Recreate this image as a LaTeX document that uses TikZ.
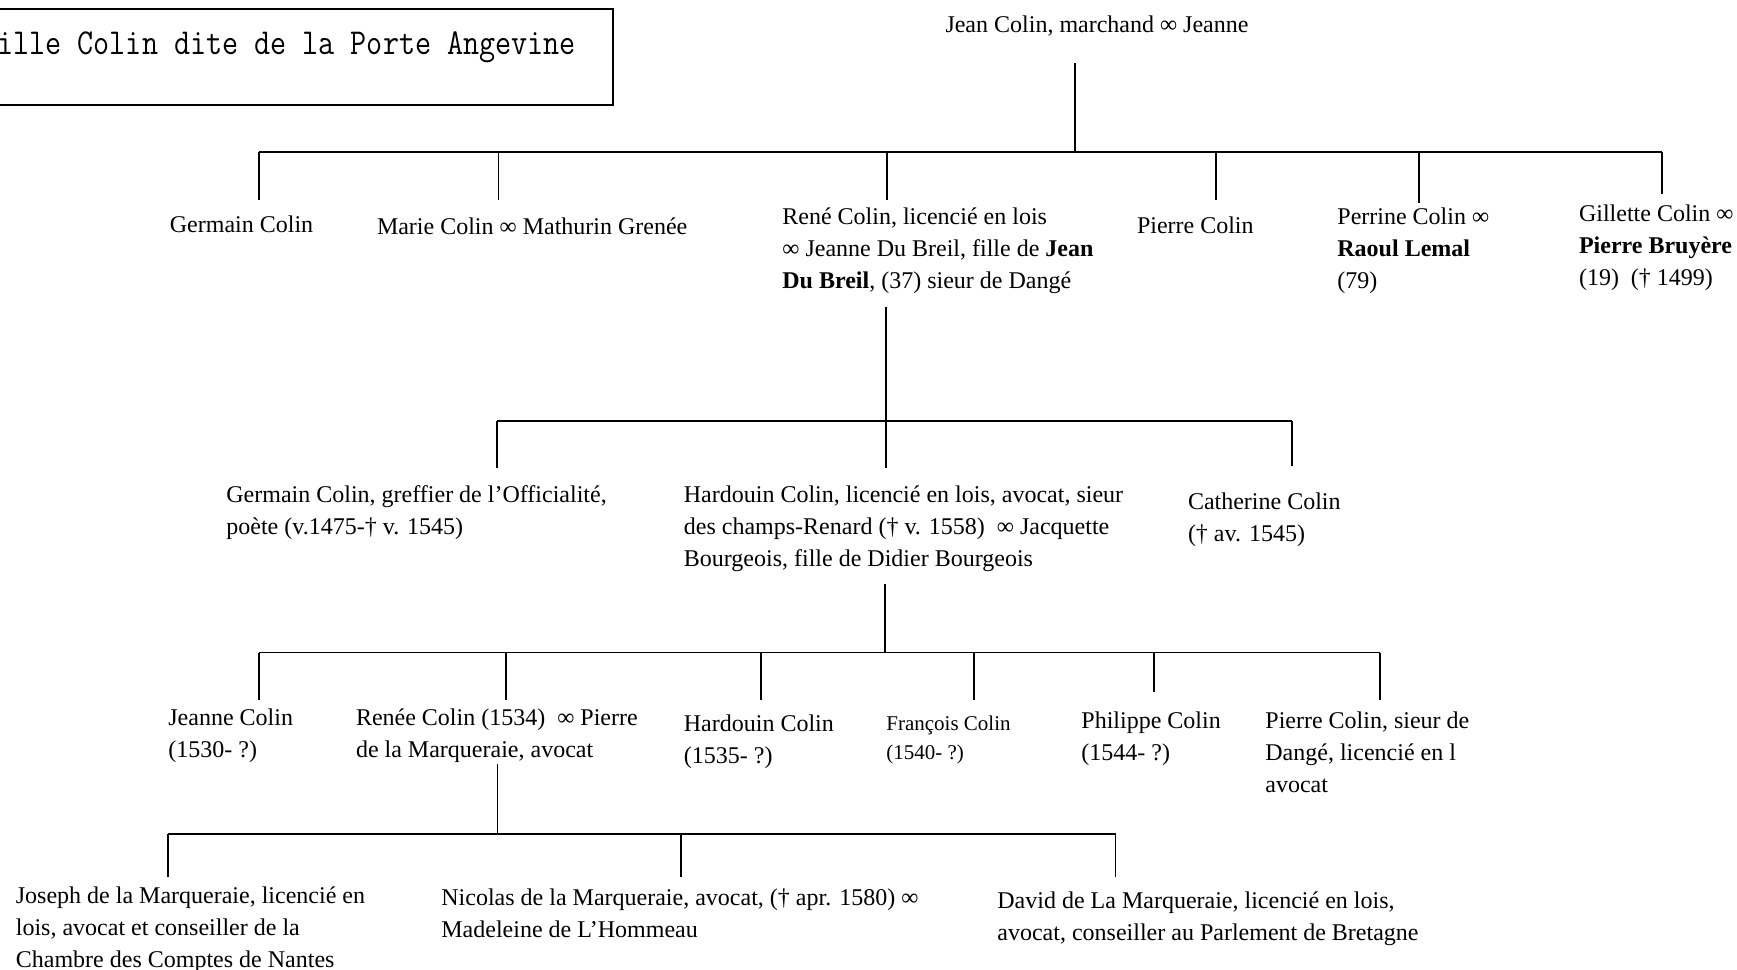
\documentclass[tikz,border=0pt]{standalone}
\usepackage{fontspec}
\usepackage{graphicx}
\setmainfont{Liberation Serif}
\tikzset{
  person/.style={anchor=base west,inner sep=0pt,align=left,font=\fontsize{12}{16}\selectfont},
  link/.style={line width=0.9pt},
}

\begin{document}
\begin{tikzpicture}[x=0.5pt,y=-0.5pt]
\useasboundingbox (0,0) rectangle (1737,970);
\clip (0,0) rectangle (1737,970);
% titre
\draw[link] (-20,9) rectangle (613,105);
\node[anchor=base west,inner sep=0pt] (titre) at (-3,54)
  {\scalebox{1}[1.17]{\ttfamily\fontsize{15.6}{18}\selectfont ille Colin dite de la Porte Angevine}};
% generation 0 (y = baseline of last line)
\node[person,anchor=base] (jean) at (1097,32) {Jean Colin, marchand ∞ Jeanne};
% generation 1
\node[person] (germ1) at (169.5,232) {Germain Colin};
\node[person] (marie) at (376.6,234) {Marie Colin ∞ Mathurin Grenée};
\node[person] (rene) at (782,288)
  {René Colin, licencié en lois\\∞ Jeanne Du Breil, fille de \textbf{Jean}\\\textbf{Du Breil}, (37) sieur de Dangé};
\node[person] (pierre1) at (1136.6,233) {Pierre Colin};
\node[person] (perrine) at (1337,288) {Perrine Colin ∞\\\textbf{Raoul Lemal}\\(79)};
\node[person] (gillette) at (1578.6,285) {Gillette Colin ∞\\\textbf{Pierre Bruyère}\\(19)\ \ († 1499)};
% generation 2
\node[person] (germ2) at (226,534)
  {Germain Colin, greffier de l’Officialité,\\poète (v.1475-† v. 1545)};
\node[person] (hard1) at (683.5,566)
  {Hardouin Colin, licencié en lois, avocat, sieur\\des champs-Renard († v. 1558)\ \ ∞ Jacquette\\Bourgeois, fille de Didier Bourgeois};
\node[person] (cath) at (1187.6,541) {Catherine Colin\\(† av. 1545)};
% generation 3
\node[person] (jeanne) at (168,757) {Jeanne Colin\\(1530- ?)};
\node[person] (renee) at (355.6,757) {Renée Colin (1534)\ \ ∞ Pierre\\de la Marqueraie, avocat};
\node[person] (hard2) at (683.5,763) {Hardouin Colin\\(1535- ?)};
\node[person,font=\fontsize{10.5}{14.5}\selectfont] (franc) at (886,759) {François Colin\\(1540- ?)};
\node[person] (phil) at (1081,760) {Philippe Colin\\(1544- ?)};
\node[person] (pierre2) at (1265,792) {Pierre Colin, sieur de\\Dangé, licencié en l\\avocat};
% generation 4
\node[person] (joseph) at (15.5,967)
  {Joseph de la Marqueraie, licencié en\\lois, avocat et conseiller de la\\Chambre des Comptes de Nantes};
\node[person] (nicolas) at (441,937)
  {Nicolas de la Marqueraie, avocat, († apr. 1580) ∞\\Madeleine de L’Hommeau};
\node[person] (david) at (997,940)
  {David de La Marqueraie, licencié en lois,\\avocat, conseiller au Parlement de Bretagne};

% liens
\coordinate (jean-s) at (1074.6,63);
\coordinate (bus1) at (1074.6,152);
\coordinate (germ1-n) at (259,200);
\coordinate (marie-n) at (498.5,200);
\coordinate (rene-n) at (887,200);
\coordinate (pierre1-n) at (1216,200);
\coordinate (perrine-n) at (1419,203);
\coordinate (gillette-n) at (1662,194);
\draw[link] (jean-s) -- (bus1);
\draw[link] (germ1-n |- bus1) -- (gillette-n |- bus1);
\foreach \c in {germ1,marie,rene,pierre1,perrine,gillette}
  \draw[link] (\c-n) -- (\c-n |- bus1);

\coordinate (rene-s) at (886,307);
\coordinate (bus2) at (886,421);
\coordinate (germ2-n) at (497,468);
\coordinate (hard1-n) at (886,468);
\coordinate (cath-n) at (1292,466);
\draw[link] (rene-s) -- (bus2);
\draw[link] (germ2-n |- bus2) -- (cath-n |- bus2);
\foreach \c in {germ2,hard1,cath}
  \draw[link] (\c-n) -- (\c-n |- bus2);

\coordinate (hard1-s) at (885,584);
\coordinate (bus3) at (885,652.5);
\coordinate (jeanne-n) at (259,700);
\coordinate (renee-n) at (506,700);
\coordinate (hard2-n) at (761,700);
\coordinate (franc-n) at (974,700);
\coordinate (phil-n) at (1154,692);
\coordinate (pierre2-n) at (1380,700);
\draw[link] (hard1-s) -- (bus3);
\draw[link] (jeanne-n |- bus3) -- (pierre2-n |- bus3);
\foreach \c in {jeanne,renee,hard2,franc,phil,pierre2}
  \draw[link] (\c-n) -- (\c-n |- bus3);

\coordinate (renee-s) at (497.5,764);
\coordinate (bus4) at (497.5,834);
\coordinate (joseph-n) at (168,877);
\coordinate (nicolas-n) at (681,877);
\coordinate (david-n) at (1115.5,877);
\draw[link] (renee-s) -- (bus4);
\draw[link] (joseph-n |- bus4) -- (david-n |- bus4);
\foreach \c in {joseph,nicolas,david}
  \draw[link] (\c-n) -- (\c-n |- bus4);
\end{tikzpicture}
\end{document}
